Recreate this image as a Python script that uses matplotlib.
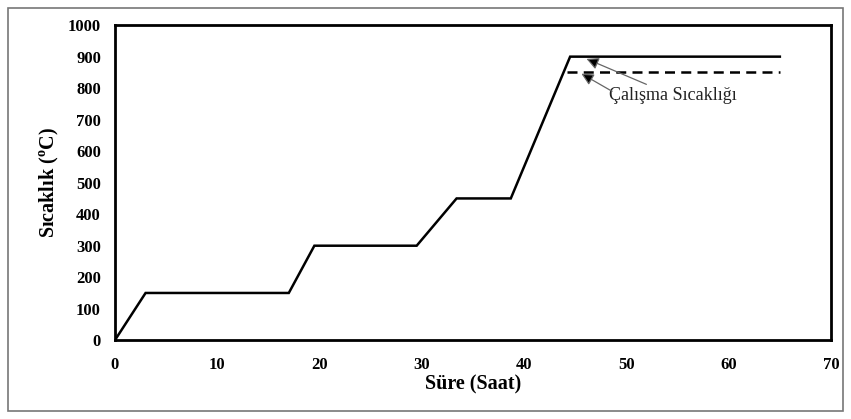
import numpy as np
import matplotlib.pyplot as plt
from matplotlib.patches import Rectangle

# heat treatment schedule
t_solid = [0, 3, 17, 19.5, 29.5, 33.4, 38.7, 44.5, 65]
T_solid = [0, 150, 150, 300, 300, 450, 450, 900, 900]
t_dash = [44.2, 65]
T_dash = [850, 850]

x_ticks = [0, 10, 20, 30, 40, 50, 60, 70]
y_ticks = [0, 100, 200, 300, 400, 500, 600, 700, 800, 900, 1000]

plt.rcParams['font.family'] = ['Liberation Serif', 'DejaVu Serif']
plt.rcParams['mathtext.fontset'] = 'custom'
plt.rcParams['mathtext.rm'] = 'Liberation Serif'
plt.rcParams['mathtext.bf'] = 'Liberation Serif:bold'

fig = plt.figure(figsize=(8.51, 4.19), dpi=100)
ax = fig.add_axes([0.135, 0.188, 0.8415, 0.752])

# outer frame
fig.patches.append(Rectangle((0.009, 0.02), 0.982, 0.962, transform=fig.transFigure,
                             fill=False, edgecolor='#777777', linewidth=1.2))

ax.plot(t_solid, T_solid, color='black', linewidth=1.8, solid_joinstyle='miter')
ax.plot(t_dash, T_dash, color='black', linewidth=1.8, linestyle=(0, (4, 2.5)))

ax.set_xlim(0, 70)
ax.set_ylim(0, 1000)
ax.set_xticks(x_ticks)
ax.set_yticks(y_ticks)
ax.tick_params(length=0, labelsize=12)
ax.tick_params(axis='x', pad=12)
ax.tick_params(axis='y', pad=10)
for lab in ax.get_xticklabels() + ax.get_yticklabels():
    lab.set_fontweight('bold')
for sp in ax.spines.values():
    sp.set_linewidth(2)

ax.set_xlabel('Süre (Saat)', fontsize=14.5, fontweight='bold', labelpad=1)
ax.set_ylabel(r'Sıcaklık ($^{\mathbf{o}}$C)', fontsize=14.5, fontweight='bold', labelpad=5)

label = 'Çalışma Sıcaklığı'
arrow = dict(arrowstyle='-|>', fc='black', ec='#666666', lw=0.9,
             shrinkA=0, shrinkB=0, mutation_scale=18)
ax.annotate(label, xy=(46.1, 893), xytext=(48.3, 762), fontsize=13,
            arrowprops=arrow, color='#222222')
ax.annotate('', xy=(45.6, 846), xytext=(48.6, 790), arrowprops=arrow)

fig.savefig('out.png', dpi=100)
